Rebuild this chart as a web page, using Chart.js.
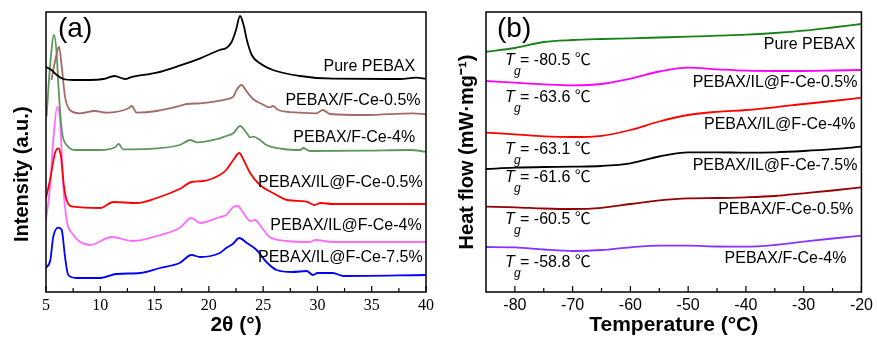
<!DOCTYPE html>
<html>
<head>
<meta charset="utf-8">
<script src="https://cdn.jsdelivr.net/npm/chart.js@4.4.0/dist/chart.umd.min.js"></script>
<style>
  html, body { margin: 0; padding: 0; background: #fff; }
  .panel { position: absolute; top: 0; height: 339px; }
  #panelA { left: 0; width: 440px; }
  #panelB { left: 440px; width: 437px; }
</style>
</head>
<body>
<div class="panel" id="panelA"><canvas id="xrdChart" width="440" height="339"></canvas></div>
<div class="panel" id="panelB"><canvas id="dscChart" width="437" height="339"></canvas></div>
<script>
// (a) XRD patterns - stacked curves, intensity in a.u.
const xrdTicks = [5, 10, 15, 20, 25, 30, 35, 40];

const pebaxAngle = [5, 5.5, 6.0, 6.6, 7.5, 9, 10.3, 11.3, 12.3, 12.8, 15.2, 17.3, 19.2, 21.0, 21.6, 22.1, 22.5, 22.87, 23.2, 23.5, 23.95, 24.7, 25.9, 28.4, 31.4, 37.6, 39.1, 40];
const pebaxInt = [225, 222, 217, 213, 212, 212, 213, 216, 213, 214.7, 219.3, 226.3, 233.7, 242, 244, 250, 262, 276, 267, 252, 237, 228.7, 222, 216, 213.3, 213, 214.3, 213.3];

const fce05Angle = [5.5, 5.9, 6.2, 6.45, 6.75, 7.2, 8.1, 9.5, 10.6, 12.6, 12.9, 13.35, 15.2, 17.3, 17.95, 19.2, 21.0, 21.6, 22.25, 22.55, 23.0, 23.5, 24.1, 24.9, 25.6, 25.9, 26.4, 28.4, 29.9, 30.5, 31.15, 34.5, 38.8, 40];
const fce05Int = [212, 234, 245.3, 225.3, 195.3, 182, 178.7, 181, 179.3, 183.7, 186, 179.3, 181, 186, 188, 188.7, 191.3, 192.7, 195.3, 202, 207, 200.3, 192.7, 188, 184.7, 186, 182, 179.3, 178.7, 182, 178, 177, 178.7, 177.7];

const fce4Angle = [5.05, 5.37, 5.74, 5.98, 6.13, 6.45, 6.9, 7.8, 10, 11.35, 11.7, 12.1, 15.2, 17.3, 18.3, 18.9, 21.0, 21.6, 22.25, 22.87, 23.5, 23.8, 24.1, 24.7, 25.3, 26.85, 28.4, 28.7, 29.3, 34.5, 38.5, 40];
const fce4Int = [175.3, 225.3, 257, 238.7, 209, 162, 147, 142, 142, 144.7, 148, 142.7, 143.7, 147, 152, 149.7, 153.7, 156, 158.7, 166, 158.7, 154.7, 155.3, 152, 147, 143, 142, 144, 141, 141.3, 142, 140.3];

const il05Angle = [5, 5.37, 5.83, 6.13, 6.38, 6.66, 6.9, 7.5, 10.0, 11.2, 13.35, 15.2, 17.3, 18.4, 19.5, 21.0, 21.6, 22.25, 22.8, 23.2, 23.8, 24.7, 25.9, 27.2, 29.0, 29.7, 30.3, 31.4, 40];
const il05Int = [94, 112, 139, 143.7, 135.3, 105.3, 92, 85.3, 84, 90, 89, 94, 103, 110, 111, 117, 122, 132, 139, 132, 119, 107, 99, 92, 90.3, 87, 89, 88, 88];

const il4Angle = [5, 5.37, 5.67, 6.04, 6.29, 6.6, 6.9, 7.4, 9.05, 11.05, 13.0, 15.2, 17.3, 18.4, 19.2, 21.0, 21.6, 22.25, 22.7, 23.0, 23.5, 23.8, 24.25, 24.9, 25.6, 27.2, 29.3, 29.8, 31.4, 40];
const il4Int = [72, 105.3, 152, 185.3, 172, 105.3, 72, 58.7, 47, 55, 51, 56, 64, 74, 69, 75, 77, 85, 86, 82, 74, 71, 72, 64, 55, 51, 50, 52, 50, 50];

const il75Angle = [5, 5.4, 5.67, 6.15, 6.45, 6.75, 7.05, 7.8, 10, 11.5, 13.7, 15.5, 17.3, 18.4, 19.2, 21.0, 21.6, 22.2, 22.8, 23.5, 24.4, 25.3, 26.25, 27.7, 29.0, 29.6, 30.0, 31.4, 32.4, 40];
const il75Int = [24, 32, 55.3, 64.3, 62, 35.3, 17, 14, 14, 18, 19, 24, 29, 37, 35, 39, 44, 48, 54, 49, 42, 30, 22, 20, 21, 17, 19, 19, 16, 17];

// (b) DSC curves - heat flow (stacked, a.u. offsets)
const dscTicks = [-80, -70, -60, -50, -40, -30, -20];
const dscTemp = [-85, -80, -75, -70, -65, -60, -55, -50, -45, -40, -35, -30, -25, -20];
const dscPure = [240.3, 244, 250, 252, 253, 253.7, 254.5, 255.3, 256.3, 257.3, 259, 261.3, 264.5, 268];
const dscIL05 = [211, 209.3, 207.7, 206.7, 208, 213.3, 220.5, 224.3, 222.7, 221.3, 221, 221, 221.5, 222];
const dscIL4 = [159.3, 157.7, 155.7, 155, 156.2, 162, 170.5, 177, 180.2, 182, 184.7, 188, 191, 194.3];
const dscIL75 = [123, 124.3, 125, 125.3, 126, 128.7, 135.5, 139.7, 139.7, 139.3, 139.7, 141, 142.8, 145.3];
const dscFCe05 = [85.3, 84.7, 83.5, 83, 84.2, 88, 91.7, 93.7, 94, 94.7, 96, 98.7, 101.5, 104.7];
const dscFCe4 = [45, 44.7, 42.5, 41, 42, 44.7, 46.3, 46.3, 45.5, 45.3, 47, 50.3, 53.5, 56.3];
const tgValues = ["-80.5", "-63.6", "-63.1", "-61.6", "-60.5", "-58.8"];

const SANS = "Arial, 'Liberation Sans', 'Noto Sans CJK SC', sans-serif";
const SERIF = "'Liberation Serif', 'Times New Roman', serif";

function toPoints(xs, ys) {
  return xs.map((x, i) => ({ x: x, y: ys[i] }));
}

function line(label, xs, ys, color) {
  return {
    label: label,
    data: toPoints(xs, ys),
    borderColor: color,
    borderWidth: 1.8,
    pointRadius: 0,
    fill: false,
    cubicInterpolationMode: "monotone",
  };
}

// Box around the plot, inward ticks, curve names and Tg notes
const framePlugin = {
  id: "frame",
  afterDatasetsDraw(chart, args, opts) {
    const ctx = chart.ctx;
    const area = chart.chartArea;
    const xs = chart.scales.x;
    const ys = chart.scales.y;
    ctx.save();

    // inward ticks on the bottom axis
    ctx.strokeStyle = "#000";
    ctx.lineWidth = 1.2;
    const vals = xs.ticks.map((t) => t.value);
    const half = (vals[1] - vals[0]) / 2;
    const minors = [];
    vals.forEach((v) => {
      if (v - half > xs.min) minors.push(v - half);
    });
    if (vals[vals.length - 1] + half < xs.max) minors.push(vals[vals.length - 1] + half);
    ctx.beginPath();
    vals.forEach((v) => {
      const px = xs.getPixelForValue(v);
      ctx.moveTo(px, area.bottom);
      ctx.lineTo(px, area.bottom - 6);
    });
    minors.forEach((v) => {
      const px = xs.getPixelForValue(v);
      ctx.moveTo(px, area.bottom);
      ctx.lineTo(px, area.bottom - 4);
    });
    ctx.stroke();

    // frame
    ctx.lineWidth = 1.5;
    ctx.strokeRect(area.left, area.top, area.right - area.left, area.bottom - area.top);

    // panel letter
    ctx.fillStyle = "#000";
    ctx.font = "28px " + SANS;
    ctx.textAlign = "left";
    ctx.textBaseline = "middle";
    ctx.fillText(opts.letter, area.left + opts.letterDx, area.top + 17);

    // curve names
    ctx.font = "16px " + SANS;
    ctx.textAlign = "right";
    (opts.names || []).forEach((n) => {
      ctx.fillText(n.text, xs.getPixelForValue(n.x), ys.getPixelForValue(n.y));
    });

    // glass transition notes
    ctx.textAlign = "left";
    (opts.notes || []).forEach((n) => {
      const px = xs.getPixelForValue(n.x);
      const py = ys.getPixelForValue(n.y);
      ctx.font = "italic 16px " + SANS;
      ctx.fillText("T", px, py);
      ctx.font = "italic 12px " + SANS;
      ctx.fillText("g", px + 9, py + 11);
      ctx.font = "16px " + SANS;
      ctx.fillText("= " + n.text + " \u2103", px + 15, py);
    });
    ctx.restore();
  },
};

// XRD chart
const xrdCtx = document.getElementById("xrdChart");
new Chart(xrdCtx, {
  type: "line",
  data: {
    datasets: [
      line("Pure PEBAX", pebaxAngle, pebaxInt, "#000000"),
      line("PEBAX/F-Ce-0.5%", fce05Angle, fce05Int, "#a26a68"),
      line("PEBAX/F-Ce-4%", fce4Angle, fce4Int, "#5c985c"),
      line("PEBAX/IL@F-Ce-0.5%", il05Angle, il05Int, "#ff0000"),
      line("PEBAX/IL@F-Ce-4%", il4Angle, il4Int, "#ff6aff"),
      line("PEBAX/IL@F-Ce-7.5%", il75Angle, il75Int, "#0000ff"),
    ],
  },
  options: {
    responsive: false,
    animation: false,
    layout: { padding: { left: 0, right: 14, top: 12, bottom: 0 } },
    scales: {
      x: {
        type: "linear",
        min: 5,
        max: 40,
        afterFit: (s) => { s.height = 47; },
        afterBuildTicks: (s) => { s.ticks = xrdTicks.map((v) => ({ value: v })); },
        grid: { display: false, drawTicks: false },
        border: { display: false },
        ticks: {
          padding: 4,
          color: "#000",
          font: { family: SERIF, size: 16 },
          maxRotation: 0,
          autoSkip: false,
        },
        title: {
          display: true,
          text: "2\u03b8 (\u00b0)",
          color: "#000",
          font: { family: SANS, size: 21, weight: "bold", lineHeight: 1.2 },
          padding: { top: 0, bottom: 1 },
        },
      },
      y: {
        type: "linear",
        min: 0,
        max: 280,
        afterFit: (s) => { s.width = 46; },
        grid: { display: false, drawTicks: false },
        border: { display: false },
        ticks: { display: false },
        title: {
          display: true,
          // trailing spaces push the visible text a bit lower, as in the figure
          text: "Intensity (a.u.)        ",
          color: "#000",
          font: { family: SANS, size: 20, weight: "bold", lineHeight: 1.2 },
          padding: { top: 10, bottom: 0 },
        },
      },
    },
    plugins: {
      legend: { display: false },
      tooltip: { enabled: false },
      frame: {
        letter: "(a)",
        letterDx: 12,
        names: [
          { text: "Pure PEBAX", x: 39.0, y: 225 },
          { text: "PEBAX/F-Ce-0.5%", x: 39.5, y: 191 },
          { text: "PEBAX/F-Ce-4%", x: 39.0, y: 154 },
          { text: "PEBAX/IL@F-Ce-0.5%", x: 39.7, y: 109 },
          { text: "PEBAX/IL@F-Ce-4%", x: 39.6, y: 66 },
          { text: "PEBAX/IL@F-Ce-7.5%", x: 39.7, y: 34 },
        ],
      },
    },
  },
  plugins: [framePlugin],
});

// DSC chart
const dscCtx = document.getElementById("dscChart");
new Chart(dscCtx, {
  type: "line",
  data: {
    datasets: [
      line("Pure PEBAX", dscTemp, dscPure, "#178217"),
      line("PEBAX/IL@F-Ce-0.5%", dscTemp, dscIL05, "#ff00ff"),
      line("PEBAX/IL@F-Ce-4%", dscTemp, dscIL4, "#ff0000"),
      line("PEBAX/IL@F-Ce-7.5%", dscTemp, dscIL75, "#000000"),
      line("PEBAX/F-Ce-0.5%", dscTemp, dscFCe05, "#960000"),
      line("PEBAX/F-Ce-4%", dscTemp, dscFCe4, "#8a33ff"),
    ],
  },
  options: {
    responsive: false,
    animation: false,
    layout: { padding: { left: 0, right: 13, top: 12, bottom: 0 } },
    scales: {
      x: {
        type: "linear",
        min: -85,
        max: -20,
        afterFit: (s) => { s.height = 47; },
        afterBuildTicks: (s) => { s.ticks = dscTicks.map((v) => ({ value: v })); },
        grid: { display: false, drawTicks: false },
        border: { display: false },
        ticks: {
          padding: 4,
          color: "#000",
          font: { family: SANS, size: 16 },
          maxRotation: 0,
          autoSkip: false,
        },
        title: {
          display: true,
          text: "Temperature (\u00b0C)",
          color: "#000",
          font: { family: SANS, size: 21, weight: "bold", lineHeight: 1.2 },
          padding: { top: 0, bottom: 1 },
        },
      },
      y: {
        type: "linear",
        min: 0,
        max: 280,
        afterFit: (s) => { s.width = 46; },
        grid: { display: false, drawTicks: false },
        border: { display: false },
        ticks: { display: false },
        title: {
          display: true,
          text: "Heat flow (mW\u00b7mg\u207b\u00b9)",
          color: "#000",
          font: { family: SANS, size: 20, weight: "bold", lineHeight: 1.2 },
          padding: { top: 15, bottom: 0 },
        },
      },
    },
    plugins: {
      legend: { display: false },
      tooltip: { enabled: false },
      frame: {
        letter: "(b)",
        letterDx: 11,
        names: [
          { text: "Pure PEBAX", x: -21.05, y: 247 },
          { text: "PEBAX/IL@F-Ce-0.5%", x: -20.7, y: 209 },
          { text: "PEBAX/IL@F-Ce-4%", x: -21.05, y: 167 },
          { text: "PEBAX/IL@F-Ce-7.5%", x: -20.7, y: 126 },
          { text: "PEBAX/F-Ce-0.5%", x: -21.4, y: 82 },
          { text: "PEBAX/F-Ce-4%", x: -22.6, y: 33 },
        ],
        notes: [
          { text: tgValues[0], x: -81.7, y: 231 },
          { text: tgValues[1], x: -81.7, y: 194.3 },
          { text: tgValues[2], x: -81.7, y: 142 },
          { text: tgValues[3], x: -81.7, y: 114.3 },
          { text: tgValues[4], x: -81.7, y: 72 },
          { text: tgValues[5], x: -81.7, y: 29.7 },
        ],
      },
    },
  },
  plugins: [framePlugin],
});
</script>
</body>
</html>
